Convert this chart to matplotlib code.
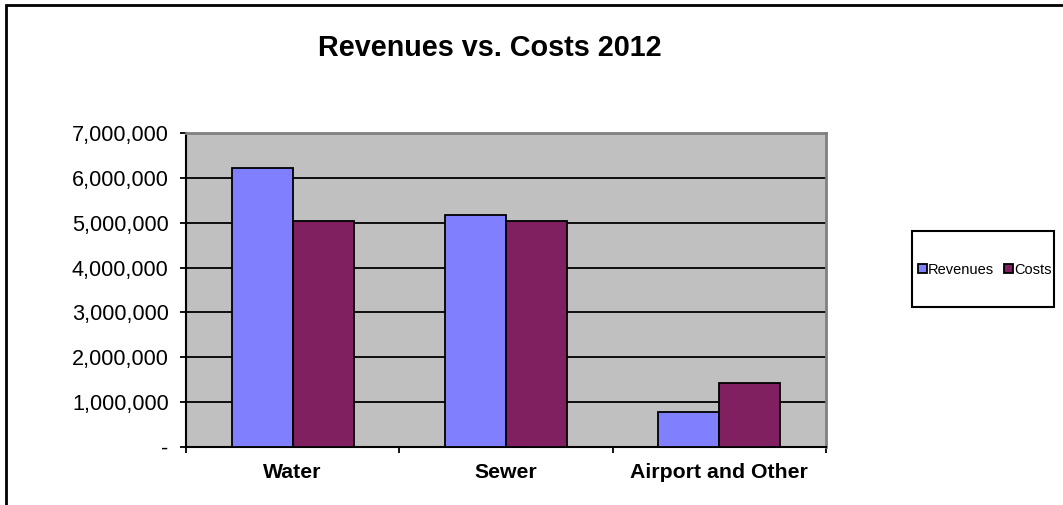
import matplotlib
matplotlib.use("Agg")
import matplotlib.pyplot as plt
import numpy as np
from matplotlib.patches import Rectangle
from matplotlib.ticker import FuncFormatter, FixedLocator

categories = ["Water", "Sewer", "Airport and Other"]
revenues = [6210000, 5170000, 770000]
costs = [5040000, 5040000, 1430000]
series_names = ["Revenues", "Costs"]
title = "Revenues vs. Costs 2012"
yticks = [0, 1000000, 2000000, 3000000, 4000000, 5000000, 6000000, 7000000]

plt.rcParams['font.family'] = ['Liberation Sans', 'DejaVu Sans']

fig = plt.figure(figsize=(10.63, 5.05), dpi=100)
W, H = 1063, 505
# outer chart border (cropped at right and bottom)
fig.patches.append(Rectangle((6 / W, -0.1), 1.2, (H - 5) / H + 0.1, transform=fig.transFigure,
                             fill=False, edgecolor='black', linewidth=2.0, zorder=0))
# legend frame
fig.patches.append(Rectangle((912 / W, 1 - 307 / H), (1054 - 912) / W, (307 - 231) / H,
                             transform=fig.transFigure, fill=True, facecolor='white',
                             edgecolor='black', linewidth=1.5, zorder=1))

ax = fig.add_axes([186 / W, 1 - 447 / H, (826 - 186) / W, (447 - 133) / H])
ax.set_facecolor('#C0C0C0')

x = np.arange(len(categories))
bw = 1 / 3.5
ax.bar(x - bw / 2, revenues, width=bw, color='#8080FF', edgecolor='black', linewidth=1.3,
       label=series_names[0], zorder=3)
ax.bar(x + bw / 2, costs, width=bw, color='#802060', edgecolor='black', linewidth=1.3,
       label=series_names[1], zorder=3)

ax.set_xlim(-0.5, len(categories) - 0.5)
ax.set_ylim(0, 7000000)
ax.yaxis.set_major_locator(FixedLocator(yticks))
ax.yaxis.set_major_formatter(FuncFormatter(lambda v, p: '-' if v == 0 else f"{int(v):,}"))
ax.grid(axis='y', color='black', linewidth=1.3, zorder=1)
ax.set_axisbelow(True)

ax.set_xticks(x)
ax.set_xticklabels(categories, fontsize=15.3, fontweight='bold')
ax.set_xticks(np.arange(len(categories) + 1) - 0.5, minor=True)
ax.tick_params(axis='x', which='major', length=0, pad=11.5)
ax.tick_params(axis='x', which='minor', length=4.5, width=1.3, direction='out')
ax.tick_params(axis='y', length=4.5, width=1.3, direction='out', labelsize=15.6, pad=8.0)

for s in ['top', 'right']:
    ax.spines[s].set_color('#808080')
    ax.spines[s].set_linewidth(2)
for s in ['left', 'bottom']:
    ax.spines[s].set_color('black')
    ax.spines[s].set_linewidth(1.5)

fig.text(490 / W, 1 - 48 / H, title, ha='center', va='center', fontsize=20.7, fontweight='bold')

leg = fig.legend(loc='center', bbox_to_anchor=(985 / W, 1 - 270 / H), ncol=2, fontsize=10.5,
                 frameon=False, handlelength=0.6, handleheight=0.6, handletextpad=0.1,
                 columnspacing=0.7, borderpad=0, borderaxespad=0)
leg.set_zorder(5)

fig.savefig('out.png', dpi=100)
